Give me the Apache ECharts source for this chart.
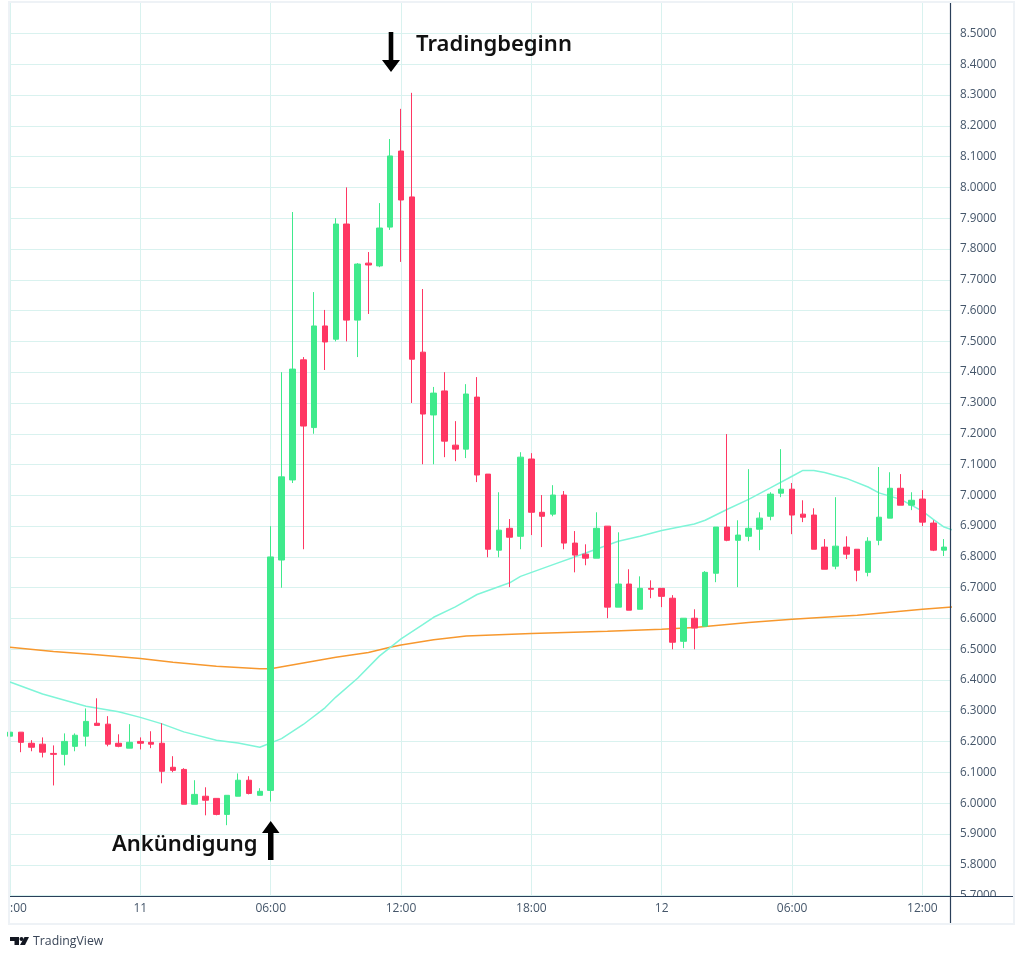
<!DOCTYPE html>
<html><head><meta charset="utf-8">
<style>html,body{margin:0;padding:0;background:#fff}#c{width:1024px;height:959px}</style>
<script src="https://cdn.jsdelivr.net/npm/echarts@6/dist/echarts.min.js"></script>
</head><body><div id="c"></div>
<script>
const opens=[6.218,6.231,6.195,6.192,6.162,6.159,6.185,6.218,6.26,6.257,6.195,6.179,6.201,6.198,6.195,6.117,6.11,5.997,6.023,6.016,5.964,6.023,6.075,6.026,6.042,6.79,7.05,7.44,7.22,7.55,7.507,7.881,7.569,7.754,7.745,7.871,8.118,7.969,7.465,7.261,7.339,7.163,7.15,7.319,7.069,6.822,6.893,6.867,7.118,6.945,6.939,7.001,6.845,6.809,6.796,6.9,6.637,6.712,6.63,6.698,6.698,6.666,6.526,6.601,6.575,6.747,6.897,6.854,6.867,6.89,6.932,7.007,7.02,6.939,6.936,6.832,6.77,6.832,6.825,6.75,6.854,6.926,7.023,6.968,6.988,6.91,6.822];
const closes=[6.231,6.198,6.182,6.166,6.159,6.201,6.221,6.266,6.253,6.192,6.185,6.198,6.195,6.192,6.104,6.107,5.997,6.029,6.01,5.964,6.026,6.075,6.032,6.039,6.8,7.06,7.41,7.225,7.55,7.498,7.881,7.569,7.751,7.748,7.868,8.102,7.959,7.442,7.264,7.332,7.176,7.15,7.329,7.066,6.825,6.887,6.864,7.124,6.945,6.932,7.001,6.845,6.806,6.796,6.893,6.637,6.712,6.627,6.698,6.695,6.672,6.523,6.601,6.569,6.75,6.897,6.854,6.871,6.893,6.926,7.004,7.02,6.936,6.929,6.825,6.76,6.835,6.809,6.757,6.851,6.929,7.023,6.968,6.984,6.913,6.822,6.832];
const lows=[6.156,6.166,6.169,6.149,6.058,6.123,6.169,6.185,6.253,6.185,6.182,6.179,6.175,6.179,6.065,6.101,5.997,5.997,5.961,5.961,5.929,6.023,6.029,6.026,6.006,6.7,7.04,6.825,7.2,7.407,7.5,7.5,7.449,7.589,7.741,7.862,7.758,7.3,7.101,7.101,7.124,7.111,7.121,7.043,6.799,6.799,6.702,6.825,6.871,6.832,6.932,6.825,6.75,6.773,6.796,6.601,6.637,6.627,6.63,6.666,6.637,6.5,6.504,6.5,6.575,6.718,6.851,6.702,6.851,6.822,6.919,6.994,6.874,6.913,6.825,6.76,6.76,6.793,6.721,6.737,6.838,6.926,6.968,6.952,6.9,6.819,6.803];
const highs=[6.239,6.231,6.205,6.214,6.188,6.227,6.227,6.308,6.341,6.283,6.224,6.257,6.214,6.234,6.26,6.153,6.114,6.075,6.052,6.016,6.026,6.097,6.088,6.049,6.9,7.4,7.92,7.449,7.66,7.602,7.9,8.0,7.754,7.79,7.949,8.157,8.255,8.307,7.67,7.352,7.4,7.241,7.361,7.384,7.069,7.01,6.923,7.14,7.137,7.001,7.033,7.014,6.884,6.841,6.945,6.9,6.88,6.76,6.737,6.724,6.698,6.676,6.601,6.63,6.754,6.897,7.199,6.919,7.085,6.945,7.01,7.15,7.04,6.984,6.958,6.858,6.994,6.867,6.825,6.864,7.092,7.075,7.069,7.01,7.017,6.919,6.858];
const fastMa=[[0,6.394],[3,6.355],[7,6.315],[10,6.297],[12,6.279],[14,6.258],[16,6.232],[19,6.205],[21,6.196],[23,6.182],[25,6.21],[27,6.256],[29,6.31],[30,6.345],[32,6.406],[34,6.478],[36,6.534],[38,6.58],[39,6.604],[41,6.638],[43,6.678],[46,6.716],[47,6.737],[50,6.775],[53,6.813],[56,6.851],[58,6.867],[60,6.886],[63,6.907],[64,6.919],[66,6.954],[68,6.987],[70,7.024],[72,7.062],[73,7.081],[74,7.081],[75,7.074],[77,7.055],[79,7.027],[80,7.008],[82,6.987],[84,6.949],[85,6.922],[86,6.897],[87,6.885]];
const slowMa=[[0,6.507],[4,6.493],[8,6.482],[12,6.47],[15,6.458],[19,6.445],[23,6.437],[24,6.437],[30,6.474],[33,6.49],[35,6.507],[36,6.514],[39,6.531],[42,6.543],[48,6.551],[55,6.559],[60,6.565],[63,6.571],[68,6.587],[72,6.598],[78,6.611],[84,6.63],[87,6.638]];
const timeLabels=[":00","11","06:00","12:00","18:00","12","06:00","12:00"];

const UP='#3fea8c',DOWN='#ff3763',GRID='#d9f2ef',AXIS='#2a3f5a',TXT='#45566a',FONT='"Open Sans",sans-serif';
const candles=opens.map((o,i)=>[i,o,closes[i],lows[i],highs[i]]);
const chart=echarts.init(document.getElementById('c'),null,{renderer:'canvas'});
function line(x1,y1,x2,y2,c){return {type:'line',z:110,silent:true,shape:{x1,y1,x2,y2},style:{stroke:c,lineWidth:1.2}};}
chart.setOption({
 animation:false,backgroundColor:'#fff',
 grid:{left:10,right:74,top:2.6,bottom:63.3,containLabel:false},
 xAxis:{type:'value',min:0,max:86.54,interval:12,axisLine:{show:false},axisTick:{show:false},
  splitLine:{show:true,lineStyle:{color:GRID,width:1}},
  axisLabel:{color:TXT,fontFamily:FONT,fontSize:12,margin:7,showMaxLabel:false,showMinLabel:true,alignMinLabel:'left',
   formatter:v=>timeLabels[Math.round(v/12)]}},
 yAxis:{type:'value',position:'right',min:5.7,max:8.6,interval:0.1,scale:true,axisLine:{show:false},axisTick:{show:false},
  splitLine:{show:true,lineStyle:{color:GRID,width:1}},
  axisLabel:{color:TXT,fontFamily:FONT,fontSize:11.7,margin:10,showMaxLabel:false,showMinLabel:true,formatter:v=>v.toFixed(4)}},
 series:[
  {type:'line',data:slowMa,showSymbol:false,symbol:'none',z:3,lineStyle:{color:'#f7982e',width:1.5},clip:true},
  {type:'line',data:fastMa,showSymbol:false,symbol:'none',z:3,lineStyle:{color:'#7ff5d8',width:1.5},clip:true},
  {type:'candlestick',data:candles,barWidth:6,z:4,clip:true,
   itemStyle:{color:UP,color0:DOWN,borderColor:UP,borderColor0:DOWN,borderWidth:1}}
 ],
 graphic:{elements:[
  {type:'rect',z:105,silent:true,shape:{x:951,y:896.5,width:62,height:26},style:{fill:'#fff'}},
  {type:'rect',z:106,silent:true,shape:{x:9,y:2,width:1005,height:922},style:{fill:'none',stroke:'#eef2f6',lineWidth:2}},
  line(950.5,3,950.5,923,AXIS),
  line(10,896.5,1013,896.5,AXIS),
  {type:'polygon',z:120,silent:true,shape:{points:[[388.7,32],[393.3,32],[393.3,60],[400,60],[391,72],[382,60],[388.7,60]]},style:{fill:'#000'}},
  {type:'polygon',z:120,silent:true,shape:{points:[[268,860],[273.5,860],[273.5,833],[279.5,833],[270.7,821],[262,833],[268,833]]},style:{fill:'#000'}},
  {type:'text',z:120,silent:true,style:{x:416,y:45,text:'Tradingbeginn',fill:'#111',font:'600 22px "Noto Sans",sans-serif',verticalAlign:'middle'}},
  {type:'text',z:120,silent:true,style:{x:112,y:845,text:'Ankündigung',fill:'#111',font:'600 22px "Noto Sans",sans-serif',verticalAlign:'middle'}},
  {type:'polygon',z:120,silent:true,shape:{points:[[10,937],[19,937],[19,945],[14.5,945],[14.5,941],[10,941]]},style:{fill:'#131722'}},
  {type:'circle',z:120,silent:true,shape:{cx:21.5,cy:939,r:2},style:{fill:'#131722'}},
  {type:'polygon',z:120,silent:true,shape:{points:[[24.5,937],[29,937],[25,945],[20,945]]},style:{fill:'#131722'}},
  {type:'text',z:120,silent:true,style:{x:33,y:941.5,text:'TradingView',fill:'#3a4658',font:'12.3px "Open Sans",sans-serif',verticalAlign:'middle'}}
 ]}
});
</script></body></html>
